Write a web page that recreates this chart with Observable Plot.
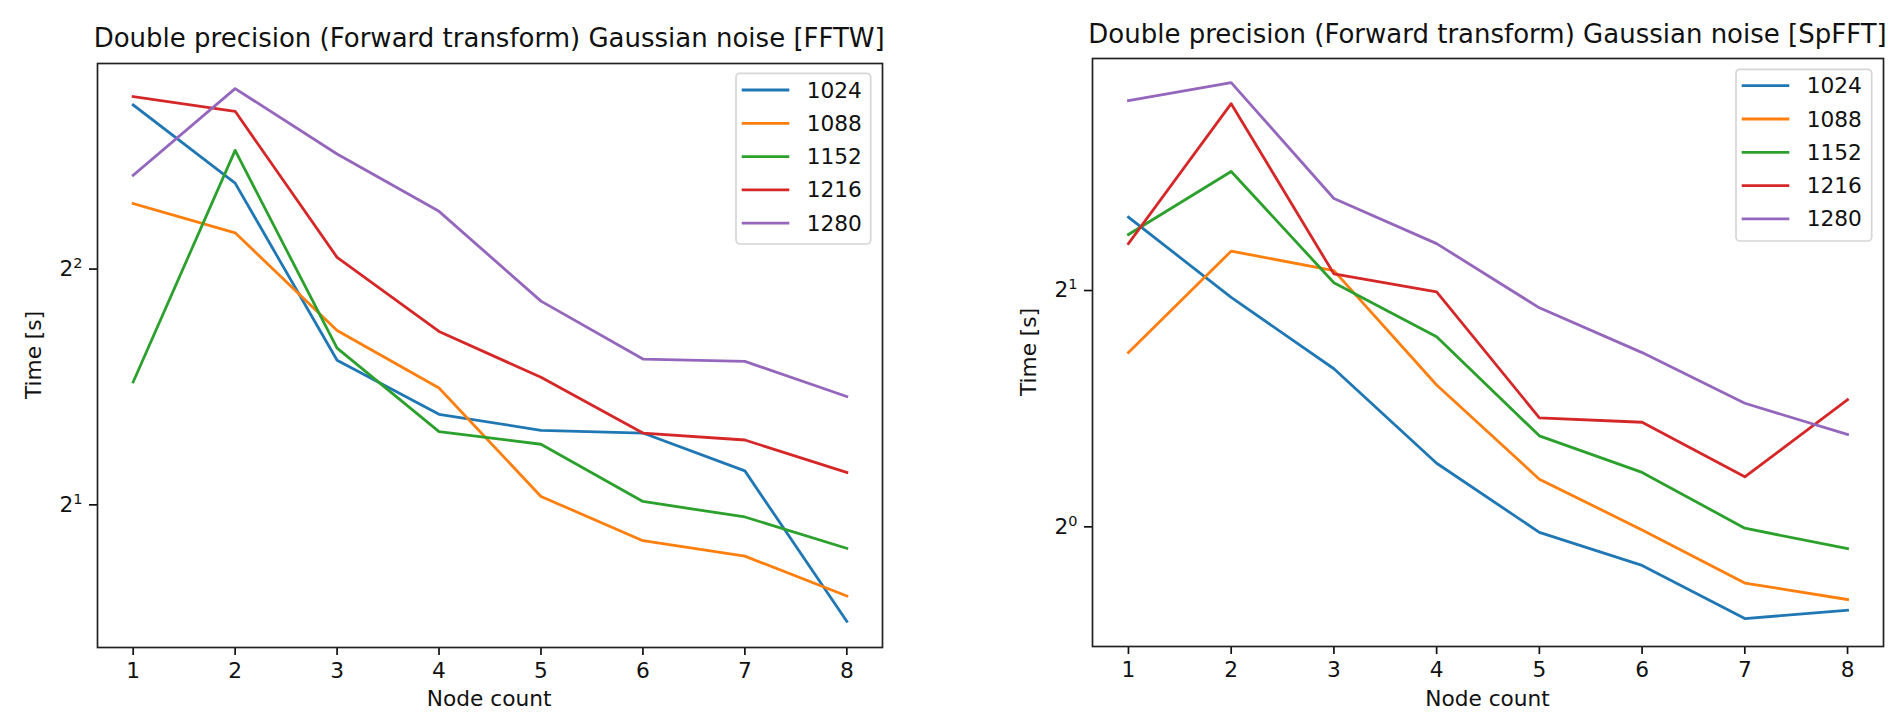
<!DOCTYPE html>
<html>
<head>
<meta charset="utf-8">
<script src="https://cdn.jsdelivr.net/npm/d3@7"></script>
<script src="https://cdn.jsdelivr.net/npm/@observablehq/plot@0.6"></script>
<style>
  html, body { margin: 0; padding: 0; background: #fff; }
  #wrap { position: relative; width: 1888px; height: 712px; overflow: hidden; background: #fff; font-family: "DejaVu Sans", sans-serif; }
  .panel { position: absolute; top: 0; }
  .panel svg { overflow: visible; }
  .panel svg g[aria-label="x-axis tick"] path,
  .panel svg g[aria-label="y-axis tick"] path,
  .panel svg g[aria-label="x-axis"] path,
  .panel svg g[aria-label="y-axis"] path { stroke-width: 1.7px; }
  #overlay { position: absolute; left: 0; top: 0; pointer-events: none; }
</style>
</head>
<body>
<div id="wrap">
  <div class="panel" id="left" style="left:0px"></div>
  <div class="panel" id="right" style="left:944px"></div>
</div>
<script>
// ---- data ----
const nodes = [1, 2, 3, 4, 5, 6, 7, 8];
const sizes = ["1024", "1088", "1152", "1216", "1280"];
const colors = ["#1f77b4", "#ff7f0e", "#2ca02c", "#d62728", "#9467bd"];

// FFTW timings [s]
const fftw1024 = [6.48, 5.15, 3.06, 2.61, 2.49, 2.47, 2.21, 1.42];
const fftw1088 = [4.85, 4.45, 3.34, 2.82, 2.05, 1.80, 1.72, 1.53];
const fftw1152 = [2.87, 5.67, 3.17, 2.48, 2.39, 2.02, 1.93, 1.76];
const fftw1216 = [6.64, 6.36, 4.14, 3.33, 2.91, 2.47, 2.42, 2.20];
const fftw1280 = [5.27, 6.80, 5.61, 4.74, 3.64, 3.07, 3.05, 2.75];

// SpFFT timings [s]
const spfft1024 = [2.48, 1.96, 1.59, 1.205, 0.984, 0.893, 0.764, 0.783];
const spfft1088 = [1.667, 2.245, 2.12, 1.516, 1.150, 0.991, 0.848, 0.808];
const spfft1152 = [2.357, 2.836, 2.046, 1.746, 1.306, 1.173, 0.996, 0.938];
const spfft1216 = [2.295, 3.46, 2.10, 1.992, 1.377, 1.359, 1.158, 1.452];
const spfft1280 = [3.49, 3.68, 2.62, 2.295, 1.901, 1.667, 1.437, 1.311];

const titles = [
  "Double precision (Forward transform) Gaussian noise [FFTW]",
  "Double precision (Forward transform) Gaussian noise [SpFFT]"
];
const xTicks = nodes;
const yTicksLeft = [2, 4];
const yTicksRight = [1, 2];
const xLabel = "Node count";
const yLabel = "Time [s]";

function toRows(seriesArrays) {
  const rows = [];
  seriesArrays.forEach((arr, i) => arr.forEach((v, j) => rows.push({nodes: nodes[j], time: v, size: sizes[i]})));
  return rows;
}
const fftwRows = toRows([fftw1024, fftw1088, fftw1152, fftw1216, fftw1280]);
const spfftRows = toRows([spfft1024, spfft1088, spfft1152, spfft1216, spfft1280]);

const fmt2 = d => "2^" + String(Math.round(Math.log2(d)));

function makePlot(rows, cfg) {
  return Plot.plot({
    width: 944,
    height: 712,
    marginLeft: cfg.ml, marginRight: cfg.mr, marginTop: cfg.mt, marginBottom: cfg.mb,
    style: {fontFamily: "DejaVu Sans, sans-serif", fontSize: "21.7px", color: "#111", background: "transparent", overflow: "visible"},
    x: {domain: [0.65, 8.35], ticks: xTicks, tickFormat: d => String(d), tickSize: 8, tickPadding: 7, label: null},
    y: {type: "log", base: 2, domain: cfg.ydomain, ticks: cfg.yticks, tickFormat: fmt2, tickSize: 8, tickPadding: 7, label: null},
    color: {domain: sizes, range: colors},
    marks: [
      Plot.line(rows, {x: "nodes", y: "time", stroke: "size", z: "size", strokeWidth: 2.8, strokeLinejoin: "round", strokeLinecap: "square"}),
      Plot.frame({stroke: "#222", strokeWidth: 1.7})
    ]
  });
}

// turn "2^k" tick labels into base + raised superscript
function superscriptTicks(svg) {
  svg.querySelectorAll("text").forEach(t => {
    const s = t.textContent;
    const m = /^(\d+)\^(-?\d+)$/.exec(s);
    if (!m) return;
    while (t.firstChild) t.removeChild(t.firstChild);
    const nsu = "http://www.w3.org/2000/svg";
    const b = document.createElementNS(nsu, "tspan");
    b.textContent = m[1];
    const e = document.createElementNS(nsu, "tspan");
    e.setAttribute("font-size", "14.5px");
    e.setAttribute("dy", "-8");
    e.textContent = m[2];
    t.appendChild(b);
    t.appendChild(e);
  });
}

const leftSvg = makePlot(fftwRows, {ml: 97, mr: 62, mt: 63, mb: 65, ydomain: [1.315, 7.32], yticks: yTicksLeft});
const rightSvg = makePlot(spfftRows, {ml: 148, mr: 5, mt: 58, mb: 66, ydomain: [0.704, 3.95], yticks: yTicksRight});
superscriptTicks(leftSvg);
superscriptTicks(rightSvg);
document.getElementById("left").appendChild(leftSvg);
document.getElementById("right").appendChild(rightSvg);

// ---- overlay: titles, axis labels, legends ----
const ns = "http://www.w3.org/2000/svg";
const ov = document.createElementNS(ns, "svg");
ov.setAttribute("id", "overlay");
ov.setAttribute("width", 1888);
ov.setAttribute("height", 712);
ov.style.fontFamily = "DejaVu Sans, sans-serif";
document.getElementById("wrap").appendChild(ov);

function txt(s, attrs) {
  const t = document.createElementNS(ns, "text");
  for (const k in attrs) t.setAttribute(k, attrs[k]);
  t.textContent = s;
  ov.appendChild(t);
  return t;
}
function el(name, attrs) {
  const e = document.createElementNS(ns, name);
  for (const k in attrs) e.setAttribute(k, attrs[k]);
  ov.appendChild(e);
  return e;
}

const panels = [
  {cx: 489.2, titleY: 46.7, yl: {x: 33, y: 355}, legend: {x0: 736, y0: 73.3, x1: 870.7, y1: 244, row0: 90}},
  {cx: 1487.5, titleY: 42.7, yl: {x: 1028, y: 352}, legend: {x0: 1736, y0: 69.3, x1: 1871.7, y1: 241, row0: 85.7}}
];
panels.forEach((p, i) => {
  txt(titles[i], {x: p.cx, y: p.titleY, "text-anchor": "middle", "font-size": "26px", fill: "#111"});
  txt(xLabel, {x: p.cx, y: 706, "text-anchor": "middle", "font-size": "21.7px", fill: "#111"});
  txt(yLabel, {x: 0, y: 0, "text-anchor": "middle", "dominant-baseline": "central", "font-size": "21.7px", fill: "#111",
    transform: `translate(${p.yl.x},${p.yl.y}) rotate(-90)`});
  const L = p.legend;
  el("rect", {x: L.x0, y: L.y0, width: L.x1 - L.x0, height: L.y1 - L.y0, rx: 4, ry: 4, fill: "rgba(255,255,255,0.8)", stroke: "#d6d6d6", "stroke-width": 1.7});
  sizes.forEach((s, k) => {
    const yy = L.row0 + 33.3 * k;
    el("line", {x1: L.x0 + 5.7, x2: L.x0 + 53.3, y1: yy, y2: yy, stroke: colors[k], "stroke-width": 2.8});
    txt(s, {x: L.x0 + 70.7, y: yy, "dominant-baseline": "central", "font-size": "21.7px", fill: "#111"});
  });
});
</script>
</body>
</html>
